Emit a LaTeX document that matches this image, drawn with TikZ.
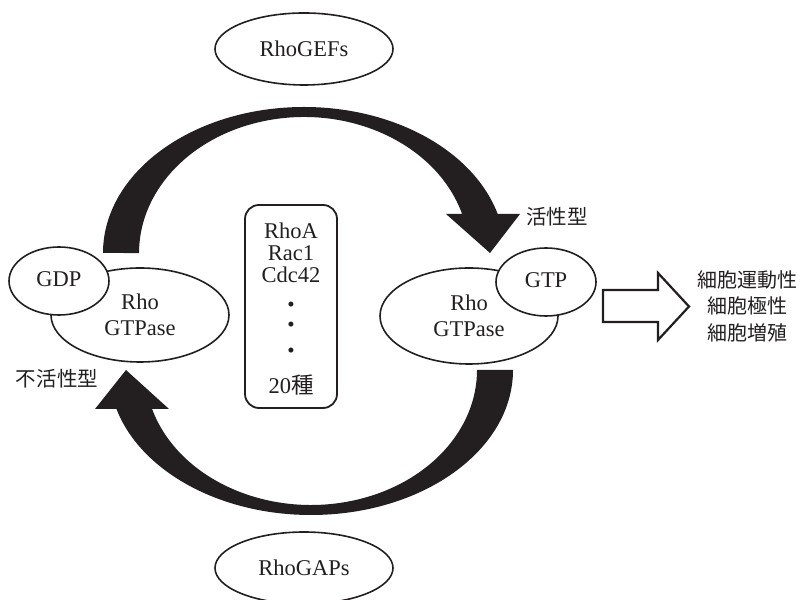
\documentclass[tikz,border=0pt]{standalone}
\usepackage{fontspec}
\setmainfont{Liberation Serif}
\newfontfamily\cjk{Noto Sans CJK JP}
\usetikzlibrary{shapes.geometric}
\definecolor{ink}{HTML}{231F20}
\begin{document}
\begin{tikzpicture}[x=1pt,y=1pt,color=ink,
  ell/.style={ellipse, draw=ink, line width=1.6pt, fill=white, inner sep=0pt, align=center,
    font=\fontsize{22.5}{26}\selectfont},
  lbl/.style={inner sep=0pt, font=\fontsize{22.5}{26}\selectfont},
  dotlbl/.style={inner sep=0pt, font=\fontsize{21}{21}\selectfont},
  jp/.style={inner sep=0pt, align=center, font=\cjk\fontsize{20.5}{26.5}\selectfont}]
\useasboundingbox (0,0) rectangle (802,599);
% thick curved arrows
\fill[ink] (103,346) arc[start angle=180, end angle=15.5, x radius=201, y radius=146]
  -- (520,385) -- (490,346) -- (446,385) -- (462.1,385)
  arc[start angle=16.67, end angle=180, x radius=165, y radius=136] -- cycle;
\fill[ink] (513,229) arc[start angle=0, end angle=-164.4, x radius=202, y radius=145]
  -- (95,190) -- (126,229) -- (169,190) -- (152.1,190)
  arc[start angle=-163.2, end angle=0, x radius=166, y radius=135] -- cycle;
% ellipses
\node[ell, minimum width=178, minimum height=72] (gef) at (304,550) {RhoGEFs};
\node[ell, minimum width=178, minimum height=72] (gap) at (304,31) {RhoGAPs};
\node[ell, minimum width=178, minimum height=94] (lrho) at (140,284) {Rho\\GTPase};
\node[ell, minimum width=100, minimum height=68] (gdp) at (59,318) {\raisebox{3pt}{GDP}};
\node[ell, minimum width=178, minimum height=96] (rrho) at (469,283) {Rho\\GTPase};
\node[ell, minimum width=100, minimum height=68] (gtp) at (546,317) {\raisebox{3pt}{GTP}};
% central box
\node[draw=ink, line width=1.8pt, rounded corners=14pt, minimum width=92, minimum height=203] (box) at (291,292.5) {};
\node[lbl] (t1) at (291,368) {RhoA};
\node[lbl] (t2) at (291,346) {Rac1};
\node[lbl] (t3) at (291,324) {Cdc42};
\node[dotlbl] (d1) at (291,292) {•};
\node[dotlbl] (d2) at (291,272) {•};
\node[dotlbl] (d3) at (291,246) {•};
\node[lbl] (t4) at (291,214) {20{\cjk 種}};
% labels
\node[jp] (act) at (557,382) {活性型};
\node[jp] (inact) at (57,220) {不活性型};
% hollow arrow
\draw[ink, line width=2.2pt, line join=miter] (603,309) -- (658,309) -- (658,326) -- (689,292.5)
  -- (658,259) -- (658,277) -- (603,277) -- cycle;
\node[jp, font=\cjk\fontsize{20}{26.5}\selectfont] (eff) at (747,293) {細胞運動性\\細胞極性\\細胞増殖};
\end{tikzpicture}
\end{document}
